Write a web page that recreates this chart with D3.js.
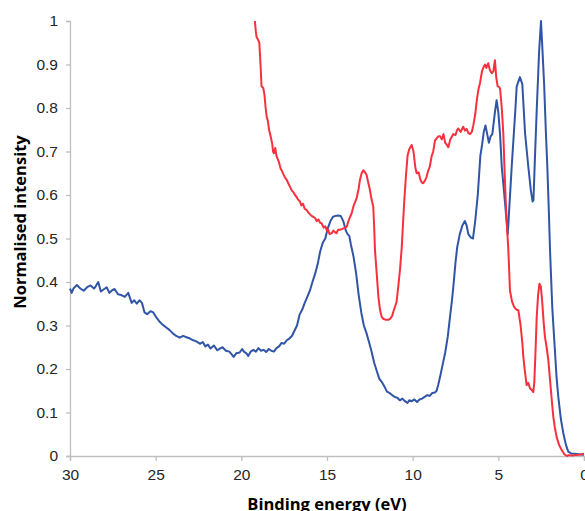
<!DOCTYPE html>
<html>
<head>
<meta charset="utf-8">
<script src="https://cdn.jsdelivr.net/npm/d3@7"></script>
<style>
  body { margin: 0; background: #fff; }
  svg { display: block; }
</style>
</head>
<body>
<div id="chart"></div>
<script>
// axis ticks
var xTicks = [30, 25, 20, 15, 10, 5, 0];
var yTicks = [0, 0.1, 0.2, 0.3, 0.4, 0.5, 0.6, 0.7, 0.8, 0.9, 1];

// blue series (binding energy eV, normalised intensity)
var blueEnergy = [30.0, 29.9, 29.8, 29.6, 29.4, 29.2, 29.0, 28.8, 28.6, 28.5, 28.35, 28.2, 28.0, 27.86, 27.7, 27.57, 27.4, 27.2, 27.0, 26.8, 26.6, 26.4, 26.25, 26.1, 25.95, 25.8, 25.65, 25.5, 25.3, 25.14, 24.95, 24.75, 24.6, 24.4, 24.2, 24.0, 23.8, 23.6, 23.4, 23.2, 23.0, 22.8, 22.6, 22.42, 22.25, 22.1, 21.95, 21.8, 21.6, 21.4, 21.25, 21.1, 20.9, 20.7, 20.55, 20.45, 20.3, 20.1, 19.95, 19.85, 19.7, 19.6, 19.45, 19.3, 19.15, 19.0, 18.85, 18.7, 18.55, 18.4, 18.25, 18.1, 17.95, 17.8, 17.65, 17.5, 17.35, 17.2, 17.05, 16.9, 16.75, 16.6, 16.45, 16.3, 16.15, 16.0, 15.85, 15.7, 15.55, 15.4, 15.25, 15.1, 14.95, 14.8, 14.65, 14.5, 14.35, 14.2, 14.05, 13.9, 13.8, 13.7, 13.6, 13.45, 13.3, 13.15, 13.0, 12.85, 12.7, 12.55, 12.4, 12.25, 12.1, 11.95, 11.8, 11.65, 11.5, 11.35, 11.2, 11.05, 10.9, 10.75, 10.6, 10.45, 10.3, 10.2, 10.05, 9.9, 9.75, 9.6, 9.45, 9.3, 9.15, 9.0, 8.85, 8.7, 8.6, 8.5, 8.4, 8.25, 8.1, 7.95, 7.82, 7.7, 7.6, 7.5, 7.4, 7.25, 7.1, 6.95, 6.85, 6.75, 6.6, 6.48, 6.35, 6.2, 6.05, 5.95, 5.85, 5.75, 5.65, 5.55, 5.45, 5.35, 5.2, 5.1, 5.0, 4.9, 4.8, 4.65, 4.45, 4.22, 4.0, 3.93, 3.74, 3.6, 3.44, 3.25, 3.1, 3.0, 2.95, 2.85, 2.76, 2.62, 2.51, 2.42, 2.33, 2.22, 2.14, 2.05, 1.98, 1.85, 1.7, 1.6, 1.5, 1.35, 1.21, 1.05, 0.92, 0.75, 0.53, 0.3, 0.0];
var blueIntensity = [0.385, 0.375, 0.385, 0.393, 0.385, 0.380, 0.388, 0.392, 0.385, 0.390, 0.400, 0.378, 0.384, 0.388, 0.375, 0.380, 0.384, 0.372, 0.370, 0.366, 0.375, 0.352, 0.358, 0.350, 0.358, 0.352, 0.330, 0.326, 0.333, 0.330, 0.318, 0.308, 0.302, 0.296, 0.290, 0.282, 0.276, 0.272, 0.276, 0.273, 0.270, 0.266, 0.263, 0.258, 0.262, 0.252, 0.256, 0.247, 0.254, 0.243, 0.247, 0.250, 0.242, 0.240, 0.233, 0.228, 0.236, 0.238, 0.246, 0.240, 0.236, 0.230, 0.240, 0.244, 0.240, 0.248, 0.242, 0.244, 0.239, 0.246, 0.242, 0.240, 0.248, 0.252, 0.260, 0.258, 0.266, 0.270, 0.276, 0.288, 0.300, 0.325, 0.336, 0.352, 0.366, 0.380, 0.400, 0.418, 0.440, 0.470, 0.490, 0.500, 0.524, 0.540, 0.550, 0.552, 0.553, 0.552, 0.540, 0.518, 0.510, 0.506, 0.485, 0.458, 0.420, 0.370, 0.330, 0.300, 0.283, 0.262, 0.240, 0.215, 0.196, 0.178, 0.170, 0.160, 0.148, 0.145, 0.140, 0.136, 0.134, 0.128, 0.132, 0.126, 0.122, 0.128, 0.126, 0.130, 0.124, 0.130, 0.132, 0.136, 0.140, 0.138, 0.145, 0.146, 0.150, 0.165, 0.182, 0.210, 0.238, 0.275, 0.320, 0.360, 0.400, 0.445, 0.480, 0.510, 0.530, 0.540, 0.530, 0.510, 0.502, 0.500, 0.540, 0.600, 0.690, 0.715, 0.745, 0.760, 0.740, 0.720, 0.735, 0.740, 0.790, 0.818, 0.790, 0.740, 0.665, 0.600, 0.510, 0.665, 0.800, 0.849, 0.871, 0.855, 0.742, 0.665, 0.610, 0.585, 0.588, 0.700, 0.795, 0.930, 1.000, 0.930, 0.857, 0.740, 0.665, 0.560, 0.470, 0.340, 0.244, 0.180, 0.136, 0.085, 0.053, 0.025, 0.010, 0.006, 0.005, 0.004, 0.003];

// red series
var redEnergy = [19.21, 19.15, 19.11, 19.0, 18.95, 18.88, 18.82, 18.72, 18.65, 18.58, 18.52, 18.45, 18.38, 18.29, 18.2, 18.15, 18.1, 18.02, 17.95, 17.85, 17.78, 17.7, 17.65, 17.55, 17.45, 17.35, 17.26, 17.15, 17.05, 16.95, 16.87, 16.78, 16.7, 16.58, 16.5, 16.4, 16.3, 16.19, 16.1, 16.0, 15.9, 15.8, 15.7, 15.6, 15.5, 15.4, 15.31, 15.2, 15.1, 15.0, 14.93, 14.85, 14.73, 14.63, 14.54, 14.45, 14.35, 14.24, 14.1, 13.95, 13.85, 13.75, 13.65, 13.56, 13.45, 13.35, 13.27, 13.15, 13.08, 12.98, 12.88, 12.78, 12.69, 12.6, 12.49, 12.4, 12.3, 12.25, 12.2, 12.1, 12.0, 11.9, 11.81, 11.7, 11.55, 11.42, 11.3, 11.2, 11.1, 10.94, 10.84, 10.74, 10.64, 10.5, 10.4, 10.3, 10.2, 10.06, 9.95, 9.85, 9.77, 9.65, 9.55, 9.45, 9.38, 9.3, 9.2, 9.1, 9.0, 8.89, 8.8, 8.7, 8.6, 8.5, 8.4, 8.3, 8.2, 8.1, 8.0, 7.92, 7.8, 7.7, 7.63, 7.5, 7.4, 7.34, 7.2, 7.05, 6.95, 6.85, 6.75, 6.65, 6.55, 6.46, 6.35, 6.25, 6.15, 6.07, 5.95, 5.85, 5.78, 5.7, 5.59, 5.49, 5.38, 5.29, 5.2, 5.12, 5.04, 4.95, 4.9, 4.8, 4.71, 4.64, 4.57, 4.5, 4.42, 4.32, 4.2, 4.1, 4.03, 3.93, 3.83, 3.7, 3.6, 3.54, 3.45, 3.35, 3.25, 3.15, 3.05, 2.96, 2.9, 2.83, 2.76, 2.68, 2.6, 2.52, 2.45, 2.36, 2.28, 2.18, 2.08, 1.95, 1.85, 1.79, 1.7, 1.6, 1.45, 1.3, 1.15, 1.0, 0.9, 0.7, 0.5, 0.3, 0.0];
var redIntensity = [1.0, 0.975, 0.963, 0.955, 0.950, 0.900, 0.850, 0.846, 0.830, 0.800, 0.780, 0.770, 0.750, 0.735, 0.718, 0.700, 0.696, 0.708, 0.690, 0.680, 0.672, 0.660, 0.657, 0.648, 0.640, 0.635, 0.627, 0.618, 0.610, 0.606, 0.600, 0.596, 0.590, 0.585, 0.576, 0.580, 0.568, 0.566, 0.560, 0.556, 0.552, 0.550, 0.547, 0.540, 0.544, 0.536, 0.535, 0.525, 0.528, 0.518, 0.520, 0.510, 0.512, 0.518, 0.515, 0.512, 0.520, 0.520, 0.522, 0.525, 0.527, 0.540, 0.550, 0.558, 0.575, 0.585, 0.593, 0.615, 0.634, 0.650, 0.657, 0.652, 0.646, 0.630, 0.611, 0.590, 0.573, 0.530, 0.474, 0.420, 0.366, 0.335, 0.320, 0.315, 0.313, 0.313, 0.316, 0.322, 0.335, 0.354, 0.390, 0.428, 0.478, 0.580, 0.640, 0.690, 0.705, 0.715, 0.700, 0.665, 0.650, 0.652, 0.635, 0.628, 0.627, 0.632, 0.640, 0.655, 0.665, 0.690, 0.700, 0.725, 0.730, 0.735, 0.735, 0.728, 0.740, 0.720, 0.715, 0.710, 0.728, 0.735, 0.740, 0.738, 0.750, 0.753, 0.745, 0.757, 0.748, 0.752, 0.742, 0.740, 0.745, 0.760, 0.785, 0.820, 0.845, 0.857, 0.885, 0.895, 0.900, 0.892, 0.903, 0.887, 0.880, 0.884, 0.910, 0.870, 0.850, 0.848, 0.845, 0.800, 0.742, 0.660, 0.588, 0.530, 0.478, 0.380, 0.355, 0.345, 0.340, 0.336, 0.335, 0.300, 0.260, 0.228, 0.195, 0.163, 0.168, 0.155, 0.152, 0.147, 0.170, 0.240, 0.320, 0.370, 0.396, 0.390, 0.360, 0.310, 0.274, 0.250, 0.220, 0.160, 0.115, 0.090, 0.065, 0.044, 0.025, 0.014, 0.004, 0.000, 0.002, 0.001, 0.002, 0.003, 0.005];

var margin = { top: 21, right: 1, bottom: 55, left: 70 },
    width = 585 - margin.left - margin.right,
    height = 511 - margin.top - margin.bottom;

var svg = d3.select("#chart")
    .append("svg")
    .attr("width", 585)
    .attr("height", 511)
    .style("font-family", "'Open Sans', 'Noto Sans', sans-serif");

var g = svg.append("g")
    .attr("transform", "translate(" + margin.left + "," + margin.top + ")");

var x = d3.scaleLinear().domain([30, 0]).range([0, width]);
var y = d3.scaleLinear().domain([0, 1]).range([height, 0]);

// X axis
var xAxis = g.append("g")
    .attr("transform", "translate(0," + height + ")")
    .call(d3.axisBottom(x).tickValues(xTicks).tickSize(5).tickPadding(8).tickFormat(d3.format("d")));

// Y axis
var yAxis = g.append("g")
    .call(d3.axisLeft(y).tickValues(yTicks).tickSize(4).tickPadding(8).tickFormat(function (d) { return d === 0 || d === 1 ? d : d3.format(".1f")(d); }));

[xAxis, yAxis].forEach(function (a) {
    a.select(".domain").attr("stroke", "#bfbfbf").attr("stroke-width", 1.3);
    a.selectAll(".tick line").attr("stroke", "#bfbfbf").attr("stroke-width", 1.3);
    a.selectAll(".tick text").attr("fill", "#262626").style("font-size", "15.5px");
});

var line = d3.line()
    .x(function (d) { return x(d[0]); })
    .y(function (d) { return y(d[1]); });

var blue = d3.zip(blueEnergy, blueIntensity);
var red = d3.zip(redEnergy, redIntensity);

g.append("path")
    .datum(blue)
    .attr("fill", "none")
    .attr("stroke", "#3155a6")
    .attr("stroke-width", 2)
    .attr("stroke-linejoin", "round")
    .attr("d", line);

g.append("path")
    .datum(red)
    .attr("fill", "none")
    .attr("stroke", "#f7303e")
    .attr("stroke-width", 2)
    .attr("stroke-linejoin", "round")
    .attr("d", line);

// axis titles
svg.append("text")
    .attr("transform", "translate(26,222) rotate(-90)")
    .attr("text-anchor", "middle")
    .style("font-size", "16.5px")
    .style("font-weight", "bold")
    .attr("fill", "#000")
    .text("Normalised intensity");

svg.append("text")
    .attr("x", margin.left + width / 2)
    .attr("y", 510)
    .attr("text-anchor", "middle")
    .style("font-size", "16.5px")
    .style("font-weight", "bold")
    .attr("fill", "#000")
    .text("Binding energy (eV)");
</script>
</body>
</html>
